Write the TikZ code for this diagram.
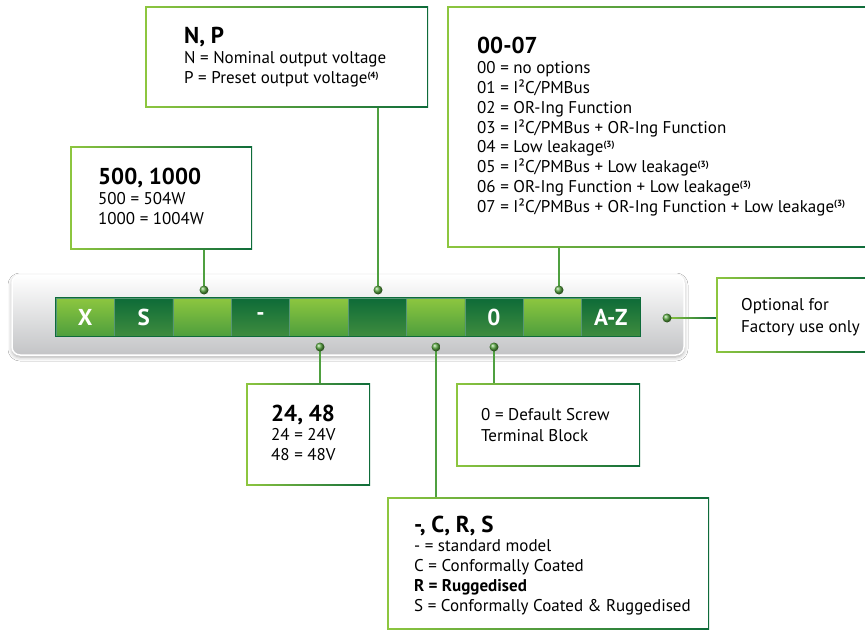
\documentclass[tikz,border=0pt]{standalone}
\usepackage{fontspec}
\setmainfont{PT Sans}
\usetikzlibrary{shadows.blur}
\definecolor{glight}{HTML}{8DC63F}
\definecolor{gdark}{HTML}{0E6B3A}
\definecolor{gmid}{HTML}{4FA040}
\definecolor{hiT}{HTML}{8DC63F}
\definecolor{hiB}{HTML}{4E9F3D}
\definecolor{loT}{HTML}{0D6B38}
\definecolor{loB}{HTML}{3F8C3E}
\definecolor{panelB}{HTML}{C3C4C6}
\newcommand\lineitem[1]{\hbox{#1}}
\newcommand\supn[1]{\raisebox{5.5pt}{\fontsize{9}{9}\selectfont\bfseries(#1)}}
\newcommand\blk[2]{\vtop{\baselineskip=19.8pt\lineskiplimit=-20pt\hbox{\fontsize{23}{23}\selectfont\bfseries #1}\fontsize{17}{19.8}\selectfont #2}}
\tikzset{
  gbox/.style={rectangle, inner sep=0pt, left color=glight, right color=gdark,
    path picture={\fill[white] ([shift={(1.5pt,1.5pt)}]path picture bounding box.south west) rectangle ([shift={(-1.5pt,-1.5pt)}]path picture bounding box.north east);}},
  txt/.style={anchor=base west, inner sep=0pt, align=left},
  conn/.style={draw=gmid, line width=1.6pt},
  dot/.style={circle, minimum size=9pt, inner sep=0pt, ball color=gmid!85!glight},
  hicell/.style={rectangle, inner sep=0pt, minimum width=58.4pt, minimum height=38pt, top color=hiT, bottom color=hiB, draw=gdark!70, line width=0.4pt},
  locell/.style={rectangle, inner sep=0pt, minimum width=58.4pt, minimum height=38pt, top color=loT, bottom color=loB, draw=gdark!70, line width=0.4pt},
  celltxt/.style={text=white, font=\fontsize{23}{23}\selectfont\bfseries}
}
\begin{document}
\begin{tikzpicture}[x=1pt,y=-1pt]
\useasboundingbox (0,0) rectangle (865,631);
\fill[white] (0,0) rectangle (865,631);

% panel
\node[rectangle, rounded corners=8pt, minimum width=672pt, minimum height=80pt, inner sep=0pt,
  top color=white, bottom color=panelB, draw=white, line width=1.5pt,
  blur shadow={shadow xshift=0pt, shadow yshift=-2pt, shadow blur radius=4pt, shadow opacity=35}]
  (panel) at (348,315) {};

% cells
\foreach \i/\s/\t in {0/hicell/X,1/locell/S,2/hicell/,3/locell/-,4/hicell/,5/locell/,6/hicell/,7/locell/0,8/hicell/,9/locell/A-Z}{
  \node[\s] (c\i) at ({85.2+58.4*\i},317) {};
  \node[celltxt] at (c\i) {\t};
}
\draw[gdark, line width=1pt] (c0.north west) rectangle (c9.south east);

% boxes
\node[gbox, minimum width=283pt, minimum height=101pt] (np) at (286.5,57.5) {};
\node[gbox, minimum width=423pt, minimum height=241pt] (opt) at (658.5,127.5) {};
\node[gbox, minimum width=182pt, minimum height=103pt] (pw) at (161,198.5) {};
\node[gbox, minimum width=124pt, minimum height=102pt] (volt) at (308,434) {};
\node[gbox, minimum width=184pt, minimum height=83pt] (term) at (548,424.5) {};
\node[gbox, minimum width=322pt, minimum height=132pt] (coat) at (548,563) {};
\node[gbox, minimum width=159pt, minimum height=75pt] (fact) at (795.5,314.5) {};

% texts
\node[txt] (tnp) at (184,44) {\blk{N, P}{\lineitem{N = Nominal output voltage}\lineitem{P = Preset output voltage\supn{4}}}};
\node[txt] (topt) at (477,54) {\blk{00-07}{%
\lineitem{00 = no options}%
\lineitem{01 = I²C/PMBus}%
\lineitem{02 = OR-Ing Function}%
\lineitem{03 = I²C/PMBus + OR-Ing Function}%
\lineitem{04 = Low leakage\supn{3}}%
\lineitem{05 = I²C/PMBus + Low leakage\supn{3}}%
\lineitem{06 = OR-Ing Function + Low leakage\supn{3}}%
\lineitem{07 = I²C/PMBus + OR-Ing Function + Low leakage\supn{3}}}};
\node[txt] (tpw) at (98,185) {\blk{500, 1000}{\lineitem{500 = 504W}\lineitem{1000 = 1004W}}};
\node[txt] (tvolt) at (271,421) {\blk{24, 48}{\lineitem{24 = 24V}\lineitem{48 = 48V}}};
\node[txt] (tterm) at (481,420) {\vtop{\baselineskip=21pt\fontsize{17}{21}\selectfont\lineitem{0 = Default Screw}\lineitem{Terminal Block}}};
\node[txt] (tcoat) at (414,532) {\blk{-, C, R, S}{%
\lineitem{- = standard model}%
\lineitem{C = Conformally Coated}%
\lineitem{\bfseries R = Ruggedised}%
\lineitem{S = Conformally Coated \& Ruggedised}}};
\node[txt] (tfact) at (741,310) {\vtop{\baselineskip=22pt\fontsize{17}{22}\selectfont\lineitem{Optional for}\lineitem{Factory use only}}};

% connector anchor points
\coordinate (p1) at (204,290);
\coordinate (p2) at (378,290);
\coordinate (p3) at (559,290);
\coordinate (p4) at (320,347);
\coordinate (p5) at (436,347);
\coordinate (p6) at (494,347);
\coordinate (p7) at (667,318);

\draw[conn] (p1) -- (p1 |- pw.south);
\draw[conn] (p2) -- (p2 |- np.south);
\draw[conn] (p3) -- (p3 |- opt.south);
\draw[conn] (p4) -- (p4 |- volt.north);
\draw[conn] (p5) -- (p5 |- coat.north);
\draw[conn] (p6) -- (p6 |- term.north);
\path[left color=glight, right color=gdark] ([yshift=-0.8pt]p7) rectangle ([yshift=0.8pt]p7 -| fact.west);

\foreach \k in {1,...,7}{ \node[dot] (d\k) at (p\k) {}; }
\end{tikzpicture}
\end{document}
